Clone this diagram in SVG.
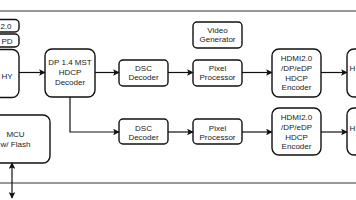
<svg xmlns="http://www.w3.org/2000/svg" width="356" height="200" viewBox="0 0 356 200">
<defs>
<style>
.box{fill:#fff;stroke:#111;stroke-width:1.4}
.t{font-family:"Liberation Sans",Arial,sans-serif;font-size:8px;fill:#222;text-anchor:middle}
.te{font-family:"Liberation Sans",Arial,sans-serif;font-size:8px;fill:#222;text-anchor:end}
.ts{font-family:"Liberation Sans",Arial,sans-serif;font-size:8px;fill:#222;text-anchor:start}
.c{fill:none;stroke:#111;stroke-width:1.2}
.frame{fill:none;stroke:#333;stroke-width:1}
</style>
<marker id="ah" viewBox="0 0 10 10" refX="9" refY="5" markerWidth="6.5" markerHeight="6.5" markerUnits="userSpaceOnUse" orient="auto-start-reverse">
<path d="M0,0 L10,5 L0,10 L2,5 Z" fill="#111"/>
</marker>
</defs>
<rect width="356" height="200" fill="#fff"/>
<rect class="frame" x="-10" y="11" width="376" height="172"/>

<g id="conn1"><rect class="box" x="-30" y="19.5" width="49" height="12.5" rx="4"/><text class="te" x="11.5" y="29">2.0</text></g>
<g id="conn2"><rect class="box" x="-30" y="34" width="49" height="13" rx="4"/><text class="te" x="12.5" y="43.5">PD</text></g>
<g id="phy"><rect class="box" x="-30" y="49.5" width="49" height="48" rx="7"/><text class="te" x="12.5" y="79">HY</text></g>
<g id="dpdec"><rect class="box" x="45" y="49" width="50" height="48" rx="7"/>
<text class="t" x="70" y="65">DP 1.4 MST</text><text class="t" x="70" y="74.8">HDCP</text><text class="t" x="70" y="84.5">Decoder</text></g>
<g id="dsc1"><rect class="box" x="119" y="60" width="49" height="26" rx="4"/>
<text class="t" x="143.5" y="70.5">DSC</text><text class="t" x="143.5" y="80">Decoder</text></g>
<g id="pix1"><rect class="box" x="193" y="60" width="49" height="26" rx="4"/>
<text class="t" x="217.5" y="70.5">Pixel</text><text class="t" x="217.5" y="80">Processor</text></g>
<g id="vgen"><rect class="box" x="193" y="22" width="49" height="26" rx="4"/>
<text class="t" x="217.5" y="32.8">Video</text><text class="t" x="217.5" y="42.3">Generator</text></g>
<g id="enc1"><rect class="box" x="272" y="49" width="49" height="48" rx="7"/>
<text class="t" x="296.5" y="61.3">HDMI2.0</text><text class="t" x="296.5" y="71">/DP/eDP</text><text class="t" x="296.5" y="80.6">HDCP</text><text class="t" x="296.5" y="90.2">Encoder</text></g>
<g id="out1"><rect class="box" x="347" y="49" width="40" height="48" rx="7"/><text class="ts" x="349.5" y="71">H</text></g>

<g id="dsc2"><rect class="box" x="119" y="119" width="49" height="25" rx="4"/>
<text class="t" x="143.5" y="131">DSC</text><text class="t" x="143.5" y="140">Decoder</text></g>
<g id="pix2"><rect class="box" x="193" y="119" width="49" height="25" rx="4"/>
<text class="t" x="217.5" y="131">Pixel</text><text class="t" x="217.5" y="140">Processor</text></g>
<g id="enc2"><rect class="box" x="272" y="108" width="49" height="47" rx="7"/>
<text class="t" x="296.5" y="120.3">HDMI2.0</text><text class="t" x="296.5" y="130">/DP/eDP</text><text class="t" x="296.5" y="139.6">HDCP</text><text class="t" x="296.5" y="149.2">Encoder</text></g>
<g id="out2"><rect class="box" x="347" y="108" width="40" height="47" rx="7"/><text class="ts" x="349.5" y="131">H</text></g>
<g id="mcu"><rect class="box" x="-40" y="115" width="90" height="48" rx="7"/>
<text class="t" x="15.5" y="137">MCU</text><text class="t" x="15.5" y="146.5">w/ Flash</text></g>

<g id="connectors">
<line class="c" x1="19" y1="72.5" x2="45" y2="72.5" marker-end="url(#ah)"/>
<line class="c" x1="95" y1="72.5" x2="119" y2="72.5" marker-end="url(#ah)"/>
<line class="c" x1="168" y1="72.5" x2="193" y2="72.5" marker-end="url(#ah)"/>
<line class="c" x1="242" y1="72.5" x2="272" y2="72.5" marker-end="url(#ah)"/>
<line class="c" x1="321" y1="72.5" x2="347" y2="72.5" marker-end="url(#ah)"/>
<polyline class="c" points="70,97 70,132 119,132" marker-end="url(#ah)"/>
<line class="c" x1="168" y1="132" x2="193" y2="132" marker-end="url(#ah)"/>
<line class="c" x1="242" y1="132" x2="272" y2="132" marker-end="url(#ah)"/>
<line class="c" x1="321" y1="132" x2="347" y2="132" marker-end="url(#ah)"/>
<line class="c" x1="12" y1="163" x2="12" y2="198" marker-start="url(#ah)" marker-end="url(#ah)"/>
</g>
</svg>
